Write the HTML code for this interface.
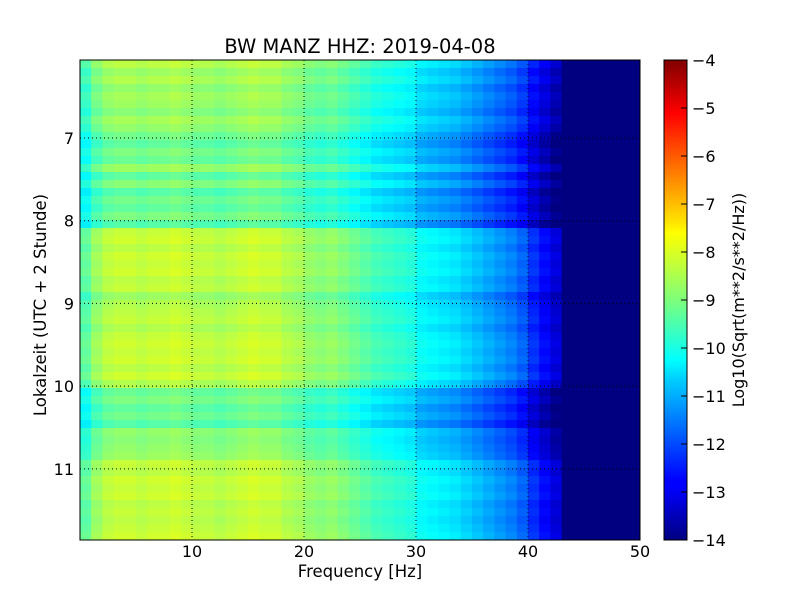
<!DOCTYPE html>
<html><head><meta charset="utf-8"><style>
body{margin:0;background:#fff;}
svg text{font-family:"DejaVu Sans","Liberation Sans",sans-serif;fill:#000;}
</style></head><body>
<svg id="chart" width="800" height="600">
<rect width="800" height="600" fill="#fff"/>
<g id="cells"></g>
<g id="grid"></g>
<rect x="80" y="60" width="560" height="480" fill="none" stroke="#000" stroke-width="1"/>
<g id="xticks"></g>
<g id="yticks"></g>
<text x="360" y="53" font-size="19.5" text-anchor="middle">BW MANZ HHZ: 2019-04-08</text>
<text x="360" y="577" font-size="16.5" text-anchor="middle">Frequency [Hz]</text>
<text transform="translate(46,305) rotate(-90)" font-size="16.5" text-anchor="middle">Lokalzeit (UTC + 2 Stunde)</text>
<defs><linearGradient id="jet" x1="0" y1="1" x2="0" y2="0">
<stop offset="0" stop-color="#000080"/><stop offset="0.11" stop-color="#0000ff"/><stop offset="0.125" stop-color="#0000ff"/>
<stop offset="0.34" stop-color="#00d4ff"/><stop offset="0.375" stop-color="#0ff"/><stop offset="0.5" stop-color="#7dff7a"/>
<stop offset="0.64" stop-color="#ff0"/><stop offset="0.66" stop-color="#ffe600"/><stop offset="0.89" stop-color="#f00"/><stop offset="1" stop-color="#800000"/>
</linearGradient></defs>
<rect x="664" y="60" width="23" height="480" fill="url(#jet)" stroke="#000"/>
<g id="cbticks"></g>
<text transform="translate(744,300) rotate(-90)" font-size="16" text-anchor="middle">Log10(Sqrt(m**2/s**2/Hz))</text>
</svg>
<script>
const xTicks=[10,20,30,40,50];
const yTicks=[7,8,9,10,11];
const cbTicks=[-4,-5,-6,-7,-8,-9,-10,-11,-12,-13,-14];
const freqProfile=[-9.4,-8.8,-8.5,-8.4,-8.4,-8.5,-8.4,-8.4,-8.3,-8.4,-8.5,-8.5,-8.6,-8.5,-8.4,-8.3,-8.4,-8.4,-8.6,-8.7,-8.9,-9.0,-8.9,-9.1,-9.3,-9.5,-9.7,-9.8,-9.9,-10.0,-10.3,-10.4,-10.5,-10.6,-10.8,-11.0,-11.2,-11.4,-11.6,-11.9,-12.4,-12.8,-13.2,-14.6,-16,-16,-16,-16,-16,-16];
const rowOffsets=[0,-0.3,-0.1,-0.4,-0.2,-0.3,-0.5,-0.2,
-0.4,-0.7,-0.9,-0.6,-0.8,-0.3,-0.9,-0.5,-1.0,-0.7,-0.9,-0.6,-1.0,
0.1,0.2,0,0.2,0.1,0.2,0,0.1,-0.3,-0.1,
0,0.1,-0.1,0.1,0.2,0.1,0.2,0,0.2,-0.1,
-0.8,-0.6,-0.9,-0.7,-1.0,-0.4,-0.5,-0.4,-0.3,
0.1,0,0.2,0.1,0.2,0,0.1,0,0.1,0.2];
const tStart=6.057,tEnd=11.86,fMax=50,vMin=-14,vMax=-4;
const X=f=>80+f/fMax*560;
const Y=t=>60+(t-tStart)/(tEnd-tStart)*480;
const C=v=>540-(v-vMin)/(vMax-vMin)*480;
function jet(v){let t=Math.max(0,Math.min(1,(v-vMin)/(vMax-vMin)));
 const r=Math.max(0,Math.min(1,1.5-Math.abs(4*t-3))),g=Math.max(0,Math.min(1,1.5-Math.abs(4*t-2))),b=Math.max(0,Math.min(1,1.5-Math.abs(4*t-1)));
 return `rgb(${Math.round(r*255)},${Math.round(g*255)},${Math.round(b*255)})`;}
const NS='http://www.w3.org/2000/svg';
function mk(tag,attrs,parent){const e=document.createElementNS(NS,tag);for(const k in attrs)e.setAttribute(k,attrs[k]);parent.appendChild(e);return e;}
const cells=document.getElementById('cells');
const dt=(tEnd-tStart)/rowOffsets.length;
rowOffsets.forEach((o,i)=>{freqProfile.forEach((p,j)=>{
 const x0=X(j),x1=X(j+1),y0=Y(tStart+i*dt),y1=Y(tStart+(i+1)*dt);
 const r=mk('rect',{x:x0,y:y0,width:x1-x0+0.5,height:y1-y0+0.5,fill:jet(p+o)},cells);
 
 
});});
const grid=document.getElementById('grid'),xt=document.getElementById('xticks'),yt=document.getElementById('yticks'),cb=document.getElementById('cbticks');
xTicks.forEach(v=>{const x=X(v);
 if(v<fMax){const l=mk('line',{x1:x,y1:60,x2:x,y2:540,stroke:'#000','stroke-dasharray':'1,3'},grid);}
 const t=mk('text',{x:x,y:557,'font-size':16,'text-anchor':'middle'},xt);t.textContent=v;
 });
yTicks.forEach(v=>{const y=Y(v);
 const l=mk('line',{x1:80,y1:y,x2:640,y2:y,stroke:'#000','stroke-dasharray':'1,3'},grid);
 const t=mk('text',{x:74,y:y+6,'font-size':16,'text-anchor':'end'},yt);t.textContent=v;
 });
cbTicks.forEach(v=>{const y=C(v);
 mk('line',{x1:681,y1:y,x2:687,y2:y,stroke:'#000'},cb);
 const t=mk('text',{x:692,y:y+6,'font-size':16},cb);t.textContent='\u2212'+Math.abs(v);
 });
</script>
</body></html>
